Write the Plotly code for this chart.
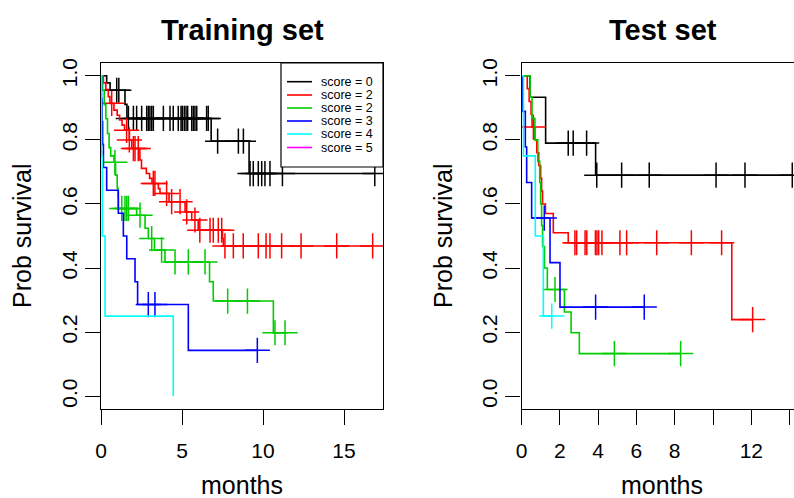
import plotly.graph_objects as go

# ---------------- data ----------------
# Kaplan-Meier curves: event times (months), survival after each event, censoring times
SCORES = ["score = 0", "score = 2", "score = 2", "score = 3", "score = 4", "score = 5"]
COLORS = ["#000000", "#FF0000", "#00CD00", "#0000FF", "#00FFFF", "#FF00FF"]

# Training set
train_black_t = [0.35, 0.56, 1.48, 1.60, 6.80, 9.14]
train_black_s = [0.978, 0.955, 0.911, 0.867, 0.796, 0.695]
train_black_c = [0.97, 1.10, 1.69, 2.0, 2.2, 2.51, 2.82, 2.92, 3.02, 3.13, 3.23, 3.85, 4.26,
                 4.46, 4.77, 4.94, 5.02, 5.14, 5.25, 5.35, 5.6, 5.7, 5.8, 5.91, 6.52, 6.62,
                 7.2, 8.48, 8.79, 9.2, 9.4, 9.71, 9.92, 10.12, 10.43, 11.2, 16.9]

train_red_t = [0.15, 0.30, 0.45, 0.55, 0.80, 1.00, 1.15, 1.30, 1.45, 1.75, 1.90, 2.40, 2.50,
               2.80, 3.00, 3.15, 3.54, 3.64, 4.20, 5.19, 5.60, 6.00, 7.50, 7.55]
train_red_s = [0.978, 0.957, 0.935, 0.914, 0.893, 0.877, 0.862, 0.846, 0.830, 0.800, 0.773,
               0.737, 0.711, 0.695, 0.680, 0.664, 0.648, 0.633, 0.607, 0.575, 0.550, 0.518,
               0.492, 0.469]
train_red_c = [0.66, 1.58, 1.75, 2.0, 2.1, 2.3, 3.23, 3.33, 4.05, 4.36, 4.88, 5.29, 5.8,
               6.1, 6.73, 6.93, 7.24, 7.45, 7.65, 8.17, 8.78, 9.71, 10.19, 10.43, 11.15,
               12.35, 14.55, 16.77]

train_green_t = [0.10, 0.20, 0.30, 0.40, 0.50, 0.60, 0.80, 0.90, 1.00, 1.05, 1.07, 2.20,
                 2.72, 2.92, 3.30, 3.95, 6.70, 6.93, 10.64]
train_green_s = [0.955, 0.910, 0.866, 0.820, 0.776, 0.750, 0.730, 0.690, 0.650, 0.620,
                 0.586, 0.565, 0.524, 0.492, 0.456, 0.419, 0.357, 0.297, 0.198]
train_green_c = [0.86, 1.28, 1.48, 1.59, 1.69, 2.41, 3.13, 3.74, 4.57, 5.39, 6.42, 7.82,
                 9.04, 10.74, 11.36]

train_blue_t = [0.03, 0.06, 0.10, 0.15, 0.35, 1.07, 1.38, 1.59, 2.10, 2.26, 5.39]
train_blue_s = [0.929, 0.857, 0.786, 0.714, 0.643, 0.571, 0.500, 0.429, 0.357, 0.286, 0.143]
train_blue_c = [2.92, 3.33, 9.65]

train_cyan_t = [0.03, 0.08, 0.25, 4.46]
train_cyan_s = [0.75, 0.50, 0.25, 0.0]
train_cyan_c = []

# Test set
test_black_t = [0.44, 1.26, 3.87]
test_black_s = [0.933, 0.790, 0.690]
test_black_c = [2.44, 2.70, 3.40, 3.93, 5.23, 6.67, 10.16, 11.67, 14.14]

test_red_t = [0.30, 0.40, 0.50, 0.55, 0.70, 0.80, 0.90, 1.00, 1.05, 1.10, 1.25, 1.66,
              2.44, 10.98]
test_red_s = [0.96, 0.92, 0.88, 0.84, 0.80, 0.76, 0.72, 0.68, 0.64, 0.60, 0.57, 0.51,
              0.479, 0.239]
test_red_c = [0.62, 2.79, 2.88, 3.32, 3.41, 3.86, 3.94, 4.03, 4.20, 5.14, 5.49, 7.06,
              8.87, 10.45, 12.07]

test_green_t = [0.45, 0.55, 0.70, 0.85, 0.95, 1.00, 1.05, 1.10, 1.20, 1.35, 2.24, 2.59, 3.02]
test_green_s = [0.933, 0.867, 0.800, 0.733, 0.667, 0.600, 0.533, 0.467, 0.400, 0.333,
                0.263, 0.198, 0.133]
test_green_c = [1.75, 4.85, 8.31]

test_blue_t = [0.06, 0.20, 0.27, 0.53, 1.49, 2.01]
test_blue_s = [0.889, 0.778, 0.667, 0.556, 0.417, 0.278]
test_blue_c = [1.19, 3.87, 6.41]

test_cyan_t = [0.10, 0.72, 1.14]
test_cyan_s = [0.75, 0.50, 0.25]
test_cyan_c = [1.58]

Y_TICKS = [0.0, 0.2, 0.4, 0.6, 0.8, 1.0]
Y_TICK_TEXT = ["0.0", "0.2", "0.4", "0.6", "0.8", "1.0"]
TRAIN_X_TICKS = [0, 5, 10, 15]
TRAIN_X_TEXT = ["0", "5", "10", "15"]
TEST_X_TICKS = [0, 2, 4, 6, 8, 10, 12, 14]
TEST_X_TEXT = ["0", "2", "4", "6", "8", "", "12", ""]

TRAIN = [
    (train_black_t, train_black_s, train_black_c),
    (train_red_t, train_red_s, train_red_c),
    (train_green_t, train_green_s, train_green_c),
    (train_blue_t, train_blue_s, train_blue_c),
    (train_cyan_t, train_cyan_s, train_cyan_c),
]
TEST = [
    (test_black_t, test_black_s, test_black_c),
    (test_red_t, test_red_s, test_red_c),
    (test_green_t, test_green_s, test_green_c),
    (test_blue_t, test_blue_s, test_blue_c),
    (test_cyan_t, test_cyan_s, test_cyan_c),
]

# ---------------- layout geometry (pixels) ----------------
W, H = 794, 498
FONT = "Liberation Sans, Arial, Helvetica, sans-serif"


def px_x(p):
    return p / W


def px_y(p):
    return 1 - p / H


def surv_at(times, surv, t):
    s = 1.0
    for ti, si in zip(times, surv):
        if ti <= t:
            s = si
    return s


fig = go.Figure()


def add_curves(curves, xa, ya):
    for (t, s, c), col in zip(curves, COLORS):
        end = max(t + c) if (t or c) else 0
        xs = [0] + t + [end]
        ys = [1.0] + s + [s[-1] if s else 1.0]
        fig.add_trace(go.Scatter(
            x=xs, y=ys, mode="lines", line=dict(color=col, width=1.6, shape="hv"),
            xaxis=xa, yaxis=ya, showlegend=False, hoverinfo="skip"))
        if c:
            fig.add_trace(go.Scatter(
                x=c, y=[surv_at(t, s, ci) for ci in c], mode="markers",
                marker=dict(symbol="cross-thin", size=18,
                            line=dict(color=col, width=1.5)),
                xaxis=xa, yaxis=ya, showlegend=False, hoverinfo="skip"))


add_curves(TRAIN, "x", "y")
add_curves(TEST, "x2", "y2")

# plot regions
L1, R1 = 101, 383
L2 = 521.5
TOP, BOT = 63, 409
train_ppm = 16.2
test_ppm = 19.15

axis_common = dict(showgrid=False, zeroline=False, showline=True, linecolor="black",
                   linewidth=1.2, ticks="outside", ticklen=15, tickwidth=1.2,
                   automargin=False, tickcolor="black",
                   tickfont=dict(family=FONT, size=21, color="black"))

fig.update_layout(
    width=W, height=H, margin=dict(l=0, r=0, t=0, b=0, autoexpand=False),
    paper_bgcolor="white", plot_bgcolor="white", showlegend=False,
    xaxis=dict(domain=[px_x(L1), px_x(R1)], range=[0, (R1 - L1) / train_ppm],
               tickvals=TRAIN_X_TICKS, ticktext=TRAIN_X_TEXT, mirror=True,
               anchor="y", ticklabelstandoff=8, **axis_common),
    yaxis=dict(domain=[px_y(BOT), px_y(TOP)], range=[-0.04, 1.04],
               tickvals=Y_TICKS, ticktext=Y_TICK_TEXT, tickangle=-90, mirror=True,
               anchor="x", **axis_common),
    xaxis2=dict(domain=[px_x(L2), 1.0], range=[0, (W - L2) / test_ppm],
                tickvals=TEST_X_TICKS, ticktext=TEST_X_TEXT, mirror=True,
                anchor="y2", ticklabelstandoff=8, **axis_common),
    yaxis2=dict(domain=[px_y(BOT), px_y(TOP)], range=[-0.04, 1.04],
                tickvals=Y_TICKS, ticktext=Y_TICK_TEXT, tickangle=-90, mirror=False,
                anchor="x2", **axis_common),
)

ann = []
# panel titles
for txt, cx in [("<b>Training set</b>", (L1 + R1) / 2), ("<b>Test set</b>", 663)]:
    ann.append(dict(text=txt, x=px_x(cx), y=px_y(30), xref="paper", yref="paper",
                    showarrow=False, xanchor="center", yanchor="middle",
                    font=dict(family=FONT, size=29, color="black")))
# axis titles
for cx in [(L1 + R1) / 2, 662]:
    ann.append(dict(text="months", x=px_x(cx), y=px_y(485), xref="paper", yref="paper",
                    showarrow=False, xanchor="center", yanchor="middle",
                    font=dict(family=FONT, size=25, color="black")))
for cx in [22, 443]:
    ann.append(dict(text="Prob survival", x=px_x(cx), y=px_y(236), xref="paper",
                    yref="paper", showarrow=False, textangle=-90, xanchor="center",
                    yanchor="middle", font=dict(family=FONT, size=25, color="black")))

# legend box inside the training panel
LG_L, LG_R, LG_T, LG_B = 281, 383, 63, 167
shapes = [dict(type="rect", xref="paper", yref="paper", x0=px_x(LG_L), x1=px_x(LG_R),
               y0=px_y(LG_B), y1=px_y(LG_T), line=dict(color="black", width=1.2),
               fillcolor="white", layer="above")]
row_y = [81.7, 95, 108, 121, 134, 147.5]
for lab, col, ry in zip(SCORES, COLORS, row_y):
    shapes.append(dict(type="line", xref="paper", yref="paper", x0=px_x(287), x1=px_x(312),
                       y0=px_y(ry), y1=px_y(ry), line=dict(color=col, width=1.6),
                       layer="above"))
    ann.append(dict(text=lab, x=px_x(319), y=px_y(ry), xref="paper", yref="paper",
                    showarrow=False, xanchor="left", yanchor="middle",
                    font=dict(family=FONT, size=12.5, color="black")))

fig.update_layout(annotations=ann, shapes=shapes)
fig.write_html("out.html")
